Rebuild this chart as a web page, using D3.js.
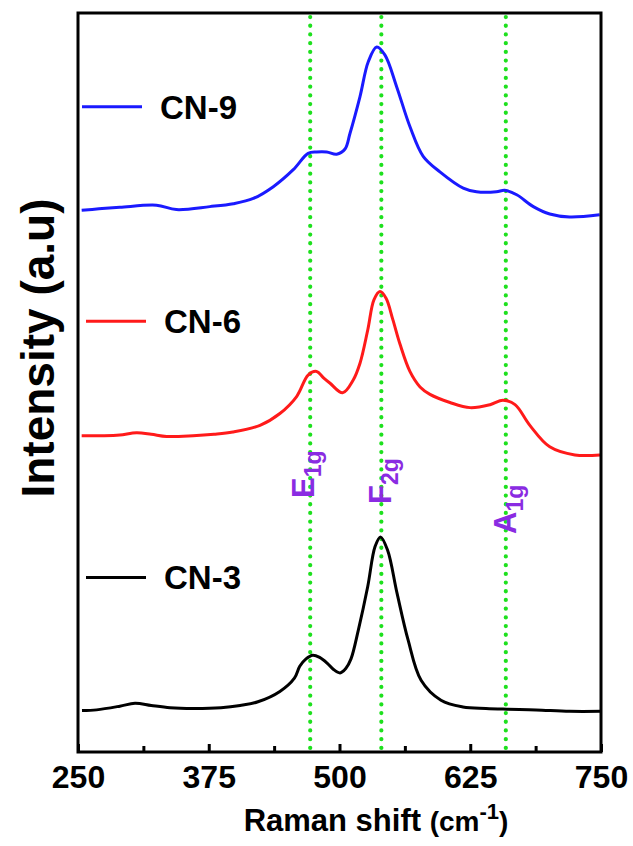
<!DOCTYPE html>
<html>
<head>
<meta charset="utf-8">
<script src="https://cdn.jsdelivr.net/npm/d3@7/dist/d3.min.js"></script>
<style>
  body { margin: 0; background: #fff; }
  svg { display: block; font-family: "Liberation Sans", Arial, sans-serif; }
</style>
</head>
<body>
<svg id="chart" width="633" height="846"></svg>
<script>
// Raman shift (cm-1) / intensity (a.u., stacked)
const cn3 = [[253.8,5.6],[267.8,5.7],[290,6.2],[304.5,6.6],[320,6.3],[338,6.0],[360,5.9],[386.7,6.0],[405,6.3],[422,6.8],[443,8.2],[456.9,10.0],[462,11.6],[468,12.6],[474.4,13.1],[481,12.8],[488.4,12.0],[494,11.2],[500.5,10.7],[506,11.3],[511,12.6],[518,16.5],[527,22.4],[534,27.8],[539.2,29.1],[546,27.3],[555,21.5],[565.5,15.2],[578,9.7],[597,7.0],[618,6.1],[640,5.9],[660,5.8],[688,5.7],[720,5.5],[750,5.5]];
const cn6 = [[253.5,42.8],[275,42.8],[290,42.9],[306,43.2],[320,43.0],[334.8,42.7],[360,42.8],[380,43.0],[398,43.3],[424,44.2],[443,45.8],[459,48.1],[470,51.0],[478,51.5],[485,50.6],[491,49.9],[503,48.6],[513,50.3],[519.6,52.6],[527,57.1],[533,61.2],[538.7,62.3],[544.5,61.4],[551,58.5],[557.8,55.2],[567.3,51.5],[577,49.4],[586.5,48.4],[605.6,47.3],[624.8,46.6],[644,47.0],[656.3,47.6],[667.8,47.0],[682,44.2],[701,41.3],[725,40.2],[749,40.2]];
const cn9 = [[253.5,73.3],[270,73.5],[290,73.7],[325,74.0],[344,73.4],[376,73.8],[398.5,74.2],[417.6,74.9],[436.7,76.5],[455.8,78.8],[470,81.0],[478,81.2],[487.8,81.2],[497.3,80.9],[505.3,81.6],[510,83.7],[519.6,88.7],[527.5,93.4],[535.6,95.4],[543.5,94.3],[554.7,90.0],[567.4,84.6],[580,80.6],[596,78.5],[618.3,76.3],[631,75.8],[650,75.8],[658,76.0],[669.4,75.4],[685.3,73.8],[701,72.8],[720,72.4],[748.7,72.7]];

const seriesNames = ['CN-3', 'CN-6', 'CN-9'];
const seriesColors = ['#000000', '#ff1a1a', '#1a1aff'];
const legendLevel = [23.6, 58.3, 87.3];   // intensity level of each legend line
const modeNames = ['E', 'F', 'A'];
const modeSubs = ['1g', '2g', '1g'];
const modeShift = [472, 540, 659];
const majorTicks = [250, 375, 500, 625, 750];
const minorTicks = [312.5, 437.5, 562.5, 687.5];

const svg = d3.select('#chart');
const pLeft = 78, pRight = 601, pTop = 13, pBottom = 752;

const x = d3.scaleLinear().domain([250, 750]).range([pLeft, pRight]);
const y = d3.scaleLinear().domain([0, 100]).range([pBottom, pTop]);

// green dotted guide lines
svg.selectAll('.guide')
	.data(modeShift)
	.enter()
	.append('line')
	.attr('class', 'guide')
	.attr('x1', d => x(d)).attr('x2', d => x(d))
	.attr('y1', pTop + 4).attr('y2', pBottom - 3)
	.attr('stroke', '#1ee01e')
	.attr('stroke-width', 4.2)
	.attr('stroke-linecap', 'round')
	.attr('stroke-dasharray', '0.1 8.6');

// spectra
const line = d3.line()
	.x(d => x(d[0]))
	.y(d => y(d[1]))
	.curve(d3.curveCatmullRom.alpha(0.5));

svg.selectAll('.spec')
	.data([cn3, cn6, cn9])
	.enter()
	.append('path')
	.attr('class', 'spec')
	.attr('d', line)
	.attr('fill', 'none')
	.attr('stroke', (d, i) => seriesColors[i])
	.attr('stroke-width', 3)
	.attr('stroke-linejoin', 'round');

// legends
const leg = svg.selectAll('.leg')
	.data(seriesNames)
	.enter()
	.append('g')
	.attr('class', 'leg')
	.attr('transform', (d, i) => 'translate(0,' + y(legendLevel[i]) + ')');
leg.append('line')
	.attr('x1', (d, i) => i == 2 ? 82 : 86)
	.attr('x2', (d, i) => i == 2 ? 142 : 146)
	.attr('stroke', (d, i) => seriesColors[i])
	.attr('stroke-width', 3);
leg.append('text')
	.attr('x', (d, i) => i == 2 ? 160 : 164)
	.attr('dy', '0.36em')
	.attr('font-size', 33)
	.attr('font-weight', 'bold')
	.text(d => d);

// peak labels (rotated)
const lab = svg.selectAll('.mode')
	.data(modeNames)
	.enter()
	.append('text')
	.attr('class', 'mode')
	.attr('transform', (d, i) => 'translate(' + [314, 391, 516][i] + ',' + [498, 504, 534][i] + ') rotate(-90)')
	.attr('fill', '#8a2be2')
	.attr('font-weight', 'bold')
	.attr('font-size', 31);
lab.append('tspan').text(d => d);
lab.append('tspan')
	.attr('font-size', 23)
	.attr('dy', 7)
	.text((d, i) => modeSubs[i]);

// frame
svg.append('rect')
	.attr('x', pLeft).attr('y', pTop)
	.attr('width', pRight - pLeft).attr('height', pBottom - pTop)
	.attr('fill', 'none')
	.attr('stroke', '#000')
	.attr('stroke-width', 3);

// x axis, ticks pointing inward
const xAxis = svg.append('g')
	.attr('transform', 'translate(0,' + pBottom + ')')
	.call(d3.axisBottom(x).tickValues(majorTicks).tickSize(-8).tickPadding(13).tickFormat(d3.format('d')));
xAxis.select('.domain').remove();
xAxis.selectAll('line').attr('stroke-width', 3);
xAxis.selectAll('text')
	.attr('font-size', 32)
	.attr('font-weight', 'bold')
	.attr('font-family', '"Liberation Sans", Arial, sans-serif')
	.attr('fill', '#000');

const xMinor = svg.append('g')
	.attr('transform', 'translate(0,' + pBottom + ')')
	.call(d3.axisBottom(x).tickValues(minorTicks).tickSize(-6).tickFormat(''));
xMinor.select('.domain').remove();
xMinor.selectAll('line').attr('stroke-width', 3);

// axis titles
const xt = svg.append('text')
	.attr('x', 376)
	.attr('y', 831)
	.attr('text-anchor', 'middle')
	.attr('font-weight', 'bold');
xt.append('tspan').attr('font-size', 31).text('Raman shift ');
xt.append('tspan').attr('font-size', 28).text('(cm');
xt.append('tspan').attr('font-size', 22).attr('dy', -12).text('-1');
xt.append('tspan').attr('font-size', 28).attr('dy', 12).text(')');

svg.append('text')
	.attr('transform', 'translate(54,348) rotate(-90)')
	.attr('text-anchor', 'middle')
	.attr('font-size', 46)
	.attr('font-weight', 'bold')
	.text('Intensity (a.u)');
</script>
</body>
</html>
